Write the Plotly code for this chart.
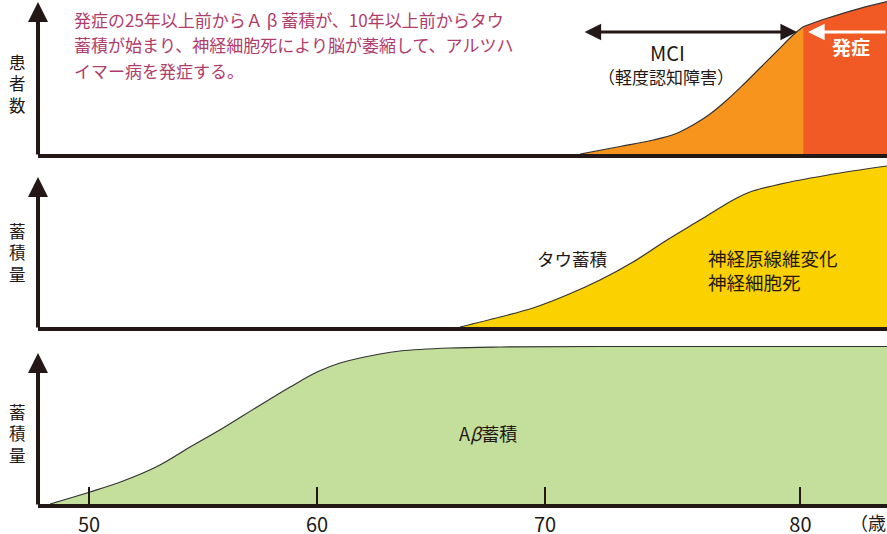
import plotly.graph_objects as go

W, H = 887, 534
FONT = "Noto Sans CJK JP"
INK = "#231815"
OUTLINE = "#333333"

# ---------------- data ----------------
# x positions are ages on a linear scale (50 and 70 anchored); y = relative amount
ab_age = [48.29, 50.04, 51.49, 52.98, 54.43, 55.88, 57.37, 58.82, 60.0, 61.01,
          62.76, 63.64, 65.83, 68.03, 72.41, 85.0]
ab_level = [0, 12, 23, 37.5, 57, 76, 97, 117, 132, 141,
            150, 153, 156, 157, 157.5, 157.5]

tau_age = [66.27, 68.03, 69.47, 70.96, 72.41, 73.86, 75.35, 76.80, 78.25, 78.99,
           80.75, 82.94, 85.0]
tau_level = [0, 10, 19, 32, 47, 65, 87, 107, 127, 135, 145, 154, 161]

mci_age = [71.54, 73.29, 74.74, 75.70, 76.49, 77.24, 77.98, 78.68, 79.43, 80.18, 80.88, 81.32]
mci_patients = [0, 7.5, 14, 20, 29, 40, 54, 69, 86, 103, 119, 127.3]

onset_age = [81.32, 82.37, 83.82, 85.0]
onset_patients = [127.3, 135.7, 145.7, 152.3]

tick_positions = [50, 60, 70, 81.2]
tick_labels = ["50", "60", "70", "80"]

# ---------------- figure ----------------
fig = go.Figure()

line_style = dict(color=OUTLINE, width=1.2, shape="spline", smoothing=1.0)
fig.add_trace(go.Scatter(x=ab_age, y=ab_level, xaxis="x", yaxis="y", mode="lines",
                         line=line_style, fill="tozeroy", fillcolor="#C4DF9C",
                         hoverinfo="skip"))
fig.add_trace(go.Scatter(x=tau_age, y=tau_level, xaxis="x2", yaxis="y2", mode="lines",
                         line=line_style, fill="tozeroy", fillcolor="#FCD100",
                         hoverinfo="skip"))
fig.add_trace(go.Scatter(x=mci_age, y=mci_patients, xaxis="x3", yaxis="y3", mode="lines",
                         line=line_style, fill="tozeroy", fillcolor="#F7941E",
                         hoverinfo="skip"))
fig.add_trace(go.Scatter(x=onset_age, y=onset_patients, xaxis="x3", yaxis="y3", mode="lines",
                         line=line_style, fill="tozeroy", fillcolor="#F15A24",
                         hoverinfo="skip"))

xr = [47.76, 85.0]
xdom = [38 / W, 1]


def px_x(p):
    return p / W


def px_y(p):
    return 1 - p / H


base_x = dict(range=xr, domain=xdom, showline=True, linewidth=4, linecolor=INK,
              showgrid=False, zeroline=False, fixedrange=True, automargin=False)
base_y = dict(visible=False, showgrid=False, zeroline=False, fixedrange=True,
              automargin=False)

fig.update_layout(
    width=W, height=H,
    margin=dict(l=0, r=0, t=0, b=0, autoexpand=False),
    paper_bgcolor="white", plot_bgcolor="rgba(0,0,0,0)",
    showlegend=False,
    font=dict(family=FONT, color=INK),
    xaxis=dict(**base_x, anchor="y", ticks="inside", ticklen=17, tickwidth=2,
               tickcolor=INK, tickvals=tick_positions, ticktext=tick_labels,
               tickfont=dict(size=20, color=INK, family=FONT)),
    yaxis=dict(**base_y, domain=[px_y(504), px_y(340)], range=[0, 164]),
    xaxis2=dict(**base_x, anchor="y2", ticks="", showticklabels=False),
    yaxis2=dict(**base_y, domain=[px_y(327), px_y(160)], range=[0, 167]),
    xaxis3=dict(**base_x, anchor="y3", ticks="", showticklabels=False),
    yaxis3=dict(**base_y, domain=[px_y(154), 1], range=[0, 154]),
)

ann = []

# y-axis arrows (baseline px, tip px)
for base, tip in [(154, 2), (327, 177), (504, 353)]:
    ann.append(dict(x=px_x(38), y=px_y(tip), xref="paper", yref="paper",
                    ax=0, ay=base + 2 - tip, axref="pixel", ayref="pixel",
                    text="", showarrow=True, arrowhead=2, arrowsize=1,
                    arrowwidth=4, arrowcolor=INK, standoff=0))


def label(text, x, y, size, color=INK, xanchor="center", align="center"):
    ann.append(dict(x=px_x(x), y=px_y(y), xref="paper", yref="paper", text=text,
                    showarrow=False, xanchor=xanchor, yanchor="middle", align=align,
                    font=dict(size=size, color=color, family=FONT)))


# vertical axis titles
label("患<br>者<br>数", 17, 83.5, 16.5)
label("蓄<br>積<br>量", 17, 252.5, 16.5)
label("蓄<br>積<br>量", 17, 433, 16.5)

# top description text
desc = ["発症の25年以上前からＡ β 蓄積が、10年以上前からタウ",
        "蓄積が始まり、神経細胞死により脳が萎縮して、アルツハ",
        "イマー病を発症する。"]
for line, y in zip(desc, [20, 45, 70]):
    label(line, 72, y, 17, color="#B03C6C", xanchor="left")

# MCI double arrow
ann.append(dict(x=81.05, y=122, xref="x3", yref="y3", ax=71.67, ay=122,
                axref="x3", ayref="y3", text="", showarrow=True,
                arrowhead=2, startarrowhead=2, arrowside="end+start",
                arrowsize=1.1, startarrowsize=1.1, arrowwidth=3,
                arrowcolor=INK, standoff=0, startstandoff=0))
label("MCI", 667, 52, 20)
label("（軽度認知障害）", 666, 76, 17)

# onset white arrow + label
ann.append(dict(x=81.54, y=122, xref="x3", yref="y3", ax=85.0, ay=122,
                axref="x3", ayref="y3", text="", showarrow=True,
                arrowhead=2, arrowsize=1.1, arrowwidth=3,
                arrowcolor="white", standoff=0))
label("<b>発症</b>", 851, 47, 19, color="white")

# panel texts
label("タウ蓄積", 572, 258, 17.5)
label("神経原線維変化<br>神経細胞死", 706, 270, 18.5, xanchor="left", align="left")
label("A<i>β</i>蓄積", 488, 433, 18)

# unit label
label("（歳）", 848, 522, 18, xanchor="left")

fig.update_layout(annotations=ann)
fig.write_html("out.html")
